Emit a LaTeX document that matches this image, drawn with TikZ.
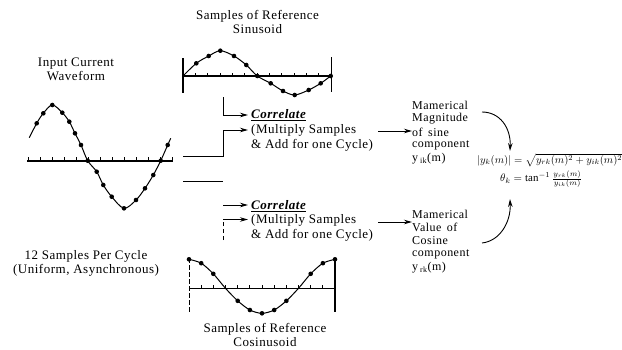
\documentclass[tikz,border=0pt]{standalone}
\usepackage{fontspec}
\usepackage{graphicx}
\setmainfont{Liberation Serif}[LetterSpace=4]
\usetikzlibrary{arrows.meta}
\begin{document}
\begin{tikzpicture}[x=1pt,y=-1pt,
  txt/.style={inner sep=0pt, font=\fontsize{13}{14}\selectfont},
  ttl/.style={txt, align=center},
  lft/.style={txt, anchor=west},
  res/.style={lft, font=\fontsize{12}{13}\selectfont},
  axisline/.style={line width=1.6pt},
  tickline/.style={line width=0.8pt},
  wave/.style={line width=1pt},
  edge/.style={line width=1.6pt},
  conn/.style={line width=0.9pt},
  arr/.style={conn, -{Stealth[length=8pt,width=4.5pt]}},
  dot/.style={fill=black}]
\useasboundingbox (0,0) rectangle (622,349);

% ---------------- titles ----------------
\node[ttl] (tin) at (76,69) {Input Current\\Waveform};
\node[ttl] (tsin) at (257.5,21.5) {Samples of Reference\\Sinusoid};
\node[ttl] (tsmp) at (86,263) {12 Samples Per Cycle\\(Uniform, Asynchronous)};
\node[ttl] (tcos) at (265,335) {Samples of Reference\\Cosinusoid};

% ---------------- input waveform ----------------
\draw[axisline] (27,160.7) -- (173,160.7);
\foreach \i in {0,...,12} \draw[tickline] (28+12*\i,160.7) -- ++(0,-3.5);
\draw[wave] plot[smooth, tension=0.55] coordinates {(29.3,137.7) (36.7,123.3) (43.3,113.3) (52.3,105) (62.3,112.7) (69.3,121.7) (75,133.3) (81,145) (87.7,160.7) (96.7,171.7) (103.3,185) (111.7,196.7) (124,208.3) (136,200) (145,188.3) (153.3,175) (160.7,160.7) (167.7,145) (170.7,138.3)};
\foreach \p in {(36.7,123.3),(43.3,113.3),(52.3,105),(62.3,112.7),(69.3,121.7),(75,133.3),(81,145),(87.7,160.7),(96.7,171.7),(103.3,185),(111.7,196.7),(124,208.3),(136,200),(145,188.3),(153.3,175),(160.7,160.7),(167.7,145)}
  \fill[dot] \p circle (2.3pt);

% ---------------- reference sinusoid ----------------
\draw[axisline] (183,76) -- (332,76);
\foreach \i in {1,...,11} \draw[tickline] (183+12.35*\i,76) -- ++(0,-3.5);
\draw[edge] (183,58) -- (183,93);
\draw[edge] (331.5,57) -- (331.5,92);
\draw[wave] plot[smooth, tension=0.5] coordinates {(183,76) (196.3,63.3) (208.7,56) (220.3,50.7) (234,56) (246.3,65) (257.3,76) (270.7,83.3) (283,91) (294.7,95) (308.7,90) (320.7,83.3) (330.7,76)};
\foreach \p in {(196.3,63.3),(208.7,56),(220.3,50.7),(234,56),(246.3,65),(257.3,76),(270.7,83.3),(283,91),(294.7,95),(308.7,90),(320.7,83.3),(330.7,76)}
  \fill[dot] \p circle (2.3pt);

% ---------------- reference cosinusoid ----------------
\draw[axisline] (189,288.3) -- (335,288.3);
\foreach \i in {1,...,11} \draw[tickline] (189+12.17*\i,288.3) -- ++(0,-3.5);
\draw[conn, dash pattern=on 5pt off 2pt] (189,258) -- (189,313);
\draw[edge] (335,258) -- (335,312);
\draw[wave] plot[smooth, tension=0.5] coordinates {(189,259.3) (201.2,263.2) (213.3,273.8) (225.5,288.3) (237.7,300.8) (249.9,310) (262,313.3) (274.2,310) (286.4,300.8) (298.5,288.3) (310.7,273.8) (322.9,263.2) (335,259.3)};
\foreach \p in {(189,259.3),(201.2,263.2),(213.3,273.8),(237.7,300.8),(249.9,310),(262,313.3),(274.2,310),(286.4,300.8),(310.7,273.8),(322.9,263.2),(335,259.3)}
  \fill[dot] \p circle (2.3pt);

% ---------------- correlate blocks ----------------
\node[lft] (c1) at (251,115) {\textbf{\textit{\underline{Correlate}}}};
\node[lft] (m1) at (251,130) {(Multiply Samples};
\node[lft] (a1) at (251,145) {\& Add for one Cycle)};

\node[lft] (c2) at (251,206) {\textbf{\textit{\underline{Correlate}}}};
\node[lft] (m2) at (251,220.5) {(Multiply Samples};
\node[lft] (a2) at (251,235) {\& Add for one Cycle)};

% ---------------- result blocks ----------------
\node[res] (n1) at (412,105) {Mamerical};
\node[res] (n2) at (412,118.5) {Magnitude};
\node[res] (n3) at (412,132) {of\, sine};
\node[res] (n4) at (412,145.5) {component};
\node[res] (n5) at (412,159) {y\,\textsubscript{ik}(m)};

\node[res] (v1) at (412,214) {Mamerical};
\node[res] (v2) at (412,227.5) {Value\, of};
\node[res] (v3) at (412,241) {Cosine};
\node[res] (v4) at (412,254.5) {component};
\node[res] (v5) at (412,268) {y\,\textsubscript{rk}(m)};

% ---------------- formulas ----------------
\node[anchor=west, inner sep=0pt] (f1) at (477,160) {\resizebox{145pt}{!}{$|y_k(m)|=\sqrt{y_{rk}(m)^2+y_{ik}(m)^2}$}};
\node[anchor=west, inner sep=0pt] (f2) at (500,179) {\resizebox{82pt}{!}{$\theta_k=\tan^{-1}\frac{y_{rk}(m)}{y_{ik}(m)}$}};

% ---------------- connectors ----------------
\coordinate (s1) at (223,97);
\draw[arr, shorten >=3pt] (s1) |- (c1.west);

\coordinate (w1) at (183,156);
\draw[arr, shorten >=3pt] (w1) -- (223,156) |- (m1.west);

\coordinate (w2) at (183,181);
\coordinate (w2e) at (223,181);
\draw[conn] (w2) -- (w2e);

\coordinate (b1) at (223,205);
\draw[arr, shorten >=3pt] (b1) -- (b1 -| c2.west);

\coordinate (b2) at (223,240);
\coordinate (b2c) at (223,219.5);
\draw[conn, dash pattern=on 4pt off 3pt] (b2) -- (b2c);
\draw[arr, shorten >=3pt] (b2c) -- (b2c -| m2.west);

\coordinate (o1) at (378,131);
\draw[arr] (o1) -- (o1 -| n3.west);
\coordinate (o2) at (378,222);
\draw[arr] (o2) -- (o2 -| v2.west);

\coordinate (k1) at (482,112);
\coordinate (k1e) at (510,151);
\draw[arr] (k1) .. controls (500,112) and (511,128) .. (k1e);
\coordinate (k2) at (482,243);
\coordinate (k2e) at (510,199);
\draw[arr] (k2) .. controls (500,241) and (511,222) .. (k2e);
\end{tikzpicture}
\end{document}
